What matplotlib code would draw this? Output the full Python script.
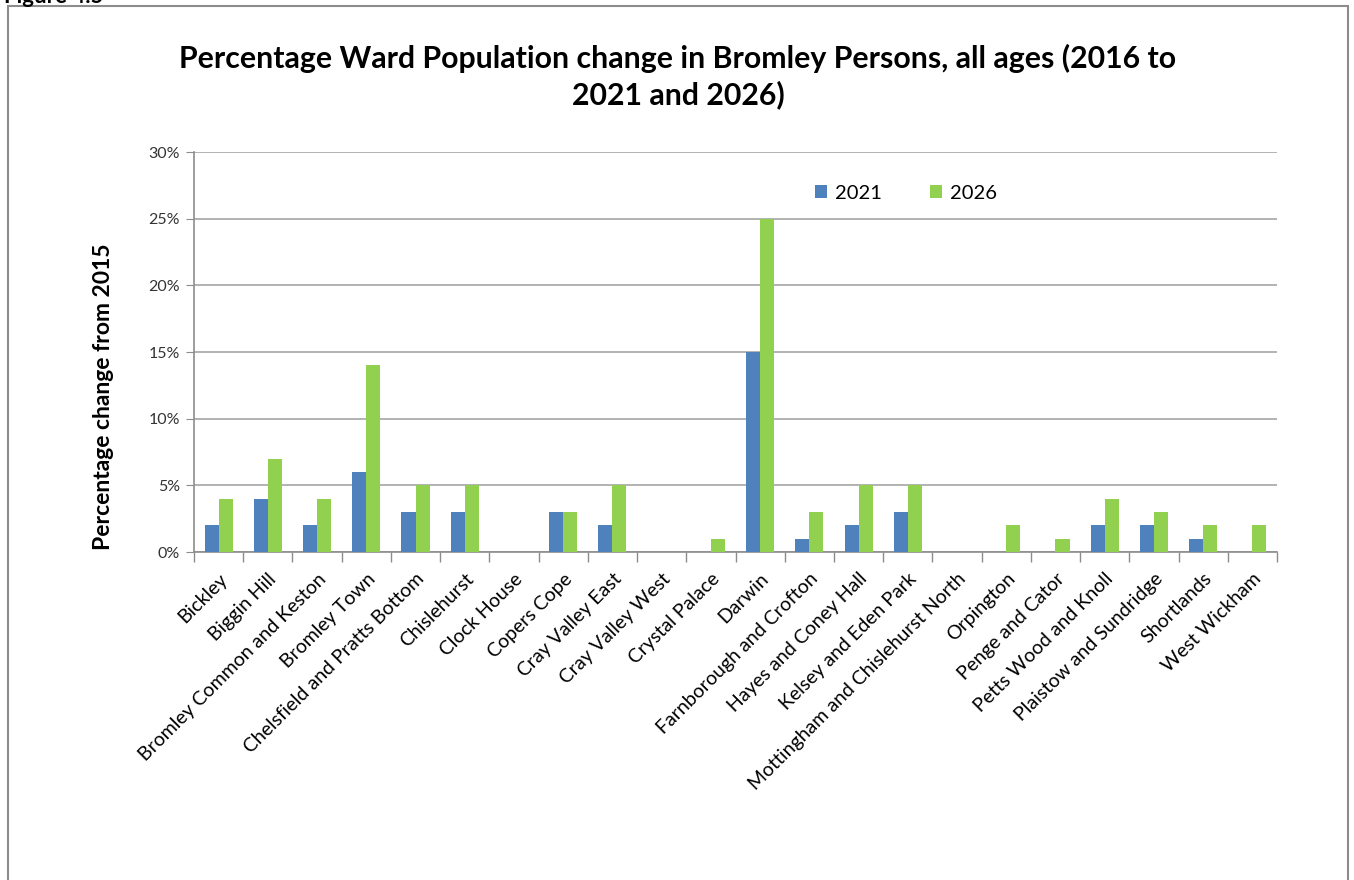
import matplotlib
matplotlib.use("Agg")
import matplotlib.pyplot as plt
import numpy as np
from matplotlib.patches import Rectangle
from matplotlib.ticker import FixedLocator, PercentFormatter

wards = ["Bickley", "Biggin Hill", "Bromley Common and Keston", "Bromley Town",
         "Chelsfield and Pratts Bottom", "Chislehurst", "Clock House", "Copers Cope",
         "Cray Valley East", "Cray Valley West", "Crystal Palace", "Darwin",
         "Farnborough and Crofton", "Hayes and Coney Hall", "Kelsey and Eden Park",
         "Mottingham and Chislehurst North", "Orpington", "Penge and Cator",
         "Petts Wood and Knoll", "Plaistow and Sundridge", "Shortlands", "West Wickham"]
change_2021 = [2, 4, 2, 6, 3, 3, 0, 3, 2, 0, 0, 15, 1, 2, 3, 0, 0, 0, 2, 2, 1, 0]
change_2026 = [4, 7, 4, 14, 5, 5, 0, 3, 5, 0, 1, 25, 3, 5, 5, 0, 2, 1, 4, 3, 2, 2]
series_names = ["2021", "2026"]
yticks = [0, 5, 10, 15, 20, 25, 30]

plt.rcParams['font.family'] = ['Lato', 'DejaVu Sans']

W, H = 1354, 880
fig = plt.figure(figsize=(W / 100, H / 100), dpi=100)
fig.patch.set_facecolor("white")

# outer chart border
fig.patches.append(Rectangle((8 / W, -0.05), (1348 - 8) / W, 1.05 - 6 / H,
                             transform=fig.transFigure, fill=False,
                             edgecolor="#8c8c8c", linewidth=1.5, clip_on=False))
fig.text(4 / W, 1 + 14 / H, "Figure 4.5", fontsize=16, fontweight="bold",
         ha="left", va="top", color="black")

ax = fig.add_axes([194 / W, 1 - 552 / H, (1277 - 194) / W, (552 - 152) / H])

x = np.arange(len(wards))
bw = 0.285
ax.bar(x - bw / 2, change_2021, width=bw, color="#4F81BD", label=series_names[0], zorder=3)
ax.bar(x + bw / 2, change_2026, width=bw, color="#92D050", label=series_names[1], zorder=3)

ax.set_xlim(-0.5, len(wards) - 0.5)
ax.set_ylim(0, 30)
ax.set_yticks(yticks)
ax.yaxis.set_major_formatter(PercentFormatter(decimals=0))
ax.yaxis.grid(True, color="#a6a6a6", linewidth=1.2, zorder=0)
ax.tick_params(axis="y", length=6, color="#8c8c8c", labelsize=11.5, labelcolor="#333333", pad=4)

ax.set_xticks(x)
ax.set_xticklabels(wards, rotation=45, ha="right", rotation_mode="anchor", fontsize=14)
ax.tick_params(axis="x", which="major", length=0, pad=13)
ax.xaxis.set_minor_locator(FixedLocator(np.arange(-0.5, len(wards), 1.0)))
ax.tick_params(axis="x", which="minor", length=7, color="#8c8c8c", width=1)

for s in ["top", "right"]:
    ax.spines[s].set_visible(False)
ax.spines["left"].set_color("#8c8c8c")
ax.spines["bottom"].set_color("#8c8c8c")
ax.spines["left"].set_linewidth(1.2)
ax.spines["bottom"].set_linewidth(1.2)

ax.set_ylabel("Percentage change from 2015", fontsize=16.5, fontweight="bold")
ax.yaxis.set_label_coords((114 - 194) / (1277 - 194), (552 - 397) / 400)

fig.text(678 / W, 1 - 77 / H,
         "Percentage Ward Population change in Bromley Persons, all ages (2016 to\n2021 and 2026)",
         ha="center", va="center", fontsize=21.8, fontweight="bold", linespacing=1.3)

leg = ax.legend(loc="center", bbox_to_anchor=((906 - 194) / (1277 - 194), (552 - 193) / 400),
                ncol=2, frameon=False, fontsize=14.5, handlelength=0.6, handleheight=0.6,
                handletextpad=0.4, columnspacing=2.4)

fig.savefig("out.png", dpi=100, facecolor="white")
